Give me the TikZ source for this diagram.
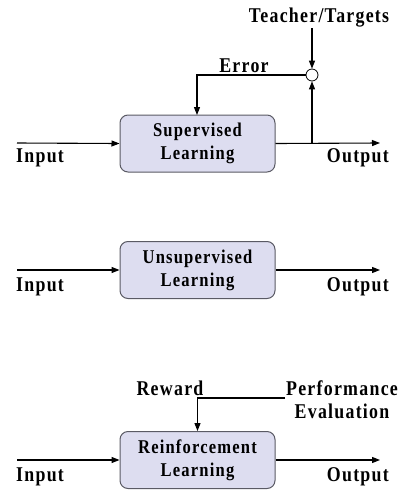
\documentclass[tikz,border=0pt]{standalone}
\usepackage{fontspec}
\setmainfont{Liberation Serif}[LetterSpace=6,FakeStretch=0.85]
\usetikzlibrary{arrows.meta}
\definecolor{boxfill}{RGB}{221,221,240}
\definecolor{boxline}{RGB}{90,90,100}
\begin{document}
\begin{tikzpicture}[x=1pt,y=-1pt,
  lbox/.style={draw=boxline,line width=1pt,fill=boxfill,rounded corners=8pt,minimum width=155pt,minimum height=57pt,align=center,font=\fontsize{19.5}{23}\selectfont\bfseries,inner sep=0pt},
  lbl/.style={font=\fontsize{21}{23}\selectfont\bfseries,inner sep=0pt,align=center},
  conn/.style={line width=1.1pt,-{Triangle[length=8pt,width=6pt]}}]
\useasboundingbox (0,0) rectangle (401,491);
% Supervised
\node[lbox] (sl) at (197.5,143.5) {Supervised\\Learning};
\coordinate (in1) at (17,143);
\coordinate (out1) at (380,143);
\coordinate (br1) at (312,143);
\coordinate (tt) at (312,28);
\coordinate (eb) at (197,115);
\node[draw,circle,minimum size=12pt,inner sep=0pt,line width=0.8pt,fill=white] (sum) at (312,75) {};
\node[lbl] (teach) at (319,18) {Teacher/Targets};
\node[lbl] (err) at (244,66) {Error};
\node[lbl,anchor=west] (inl1) at (16,158) {Input};
\node[lbl,anchor=east] (outl1) at (389,158) {Output};
\draw[conn] (in1) -- (sl.west);
\draw[conn] (sl.east) -- (out1);
\draw[conn] (br1) -- (sum.south);
\draw[conn] (tt) -- (sum.north);
\draw[conn] (sum.west) -| (eb);
% Unsupervised
\node[lbox] (ul) at (197.5,270) {Unsupervised\\Learning};
\coordinate (in2) at (17,270);
\coordinate (out2) at (380,270);
\node[lbl,anchor=west] (inl2) at (16,287) {Input};
\node[lbl,anchor=east] (outl2) at (389,287) {Output};
\draw[conn] (in2) -- (ul.west);
\draw[conn] (ul.east) -- (out2);
% Reinforcement
\node[lbox] (rl) at (197.5,460) {Reinforcement\\Learning};
\coordinate (in3) at (17,460);
\coordinate (out3) at (380,460);
\node[lbl,anchor=west] (inl3) at (16,477) {Input};
\node[lbl,anchor=east] (outl3) at (389,477) {Output};
\node[lbl] (rew) at (170,388) {Reward};
\node[lbl] (perf) at (342,400) {Performance\\Evaluation};
\coordinate (pe) at (285,398);
\draw[conn] (in3) -- (rl.west);
\draw[conn] (rl.east) -- (out3);
\draw[conn] (pe) -| (rl.north);
\end{tikzpicture}
\end{document}
